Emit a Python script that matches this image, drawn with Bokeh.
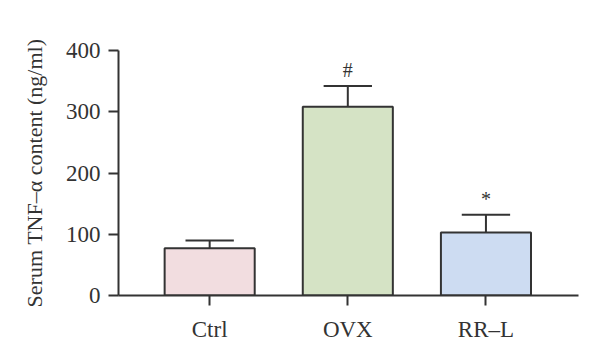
from bokeh.plotting import figure
from bokeh.models import Range1d, FixedTicker, ColumnDataSource
from bokeh.core.properties import value
from bokeh.embed import file_html
from bokeh.resources import INLINE

categories = ["Ctrl", "OVX", "RR\u2013L"]
means = [77, 308, 103]
errors = [13, 34, 29]
marks = ["", "#", "*"]
colors = ["#f2dde0", "#d5e3c5", "#cddcf2"]
y_ticks = [0, 100, 200, 300, 400]

xs = list(range(1, len(categories) + 1))
tops = [m + e for m, e in zip(means, errors)]
cap = 0.175

src = ColumnDataSource(dict(
    x=xs, top=means, err=tops, color=colors, mark=marks,
    cl=[x - cap for x in xs], cr=[x + cap for x in xs],
))

FONT = "Liberation Serif"
INK = "#333333"

p = figure(width=584, height=344, output_backend="svg", toolbar_location=None,
           x_range=Range1d(0.34, 3.67), y_range=Range1d(0, 400),
           min_border_left=118, min_border_right=6, min_border_top=50, min_border_bottom=49)
p.outline_line_color = None
p.grid.grid_line_color = None

p.vbar(x="x", top="top", bottom=0, width=0.652, fill_color="color",
       line_color=INK, line_width=2, source=src)
p.segment(x0="x", y0="top", x1="x", y1="err", line_color=INK, line_width=2, source=src)
p.segment(x0="cl", y0="err", x1="cr", y1="err", line_color=INK, line_width=2, source=src)
p.text(x="x", y="err", text="mark", text_align="center", text_baseline="bottom",
       y_offset=-5, text_font=value(FONT), text_font_size="20px", text_color=INK, source=src)

p.xaxis.ticker = FixedTicker(ticks=xs)
p.xaxis.major_label_overrides = {x: c for x, c in zip(xs, categories)}
p.yaxis.ticker = FixedTicker(ticks=y_ticks)
p.yaxis.axis_label = "Serum TNF\u2013\u03b1 content (ng/ml)"

for ax in (p.xaxis, p.yaxis):
    ax.axis_line_color = INK
    ax.axis_line_width = 2
    ax.major_tick_line_color = INK
    ax.major_tick_line_width = 2
    ax.major_tick_out = 10
    ax.major_tick_in = 0
    ax.minor_tick_line_color = None
    ax.major_label_text_font = FONT
    ax.major_label_text_font_size = "23px"
    ax.major_label_text_color = INK
    ax.axis_label_text_font = FONT
    ax.axis_label_text_font_size = "22px"
    ax.axis_label_text_font_style = "normal"
    ax.axis_label_text_color = INK

p.xaxis.major_label_standoff = 11
p.yaxis.major_label_standoff = 8
p.yaxis.axis_label_standoff = 16

open("out.html", "w").write(file_html(p, INLINE))
